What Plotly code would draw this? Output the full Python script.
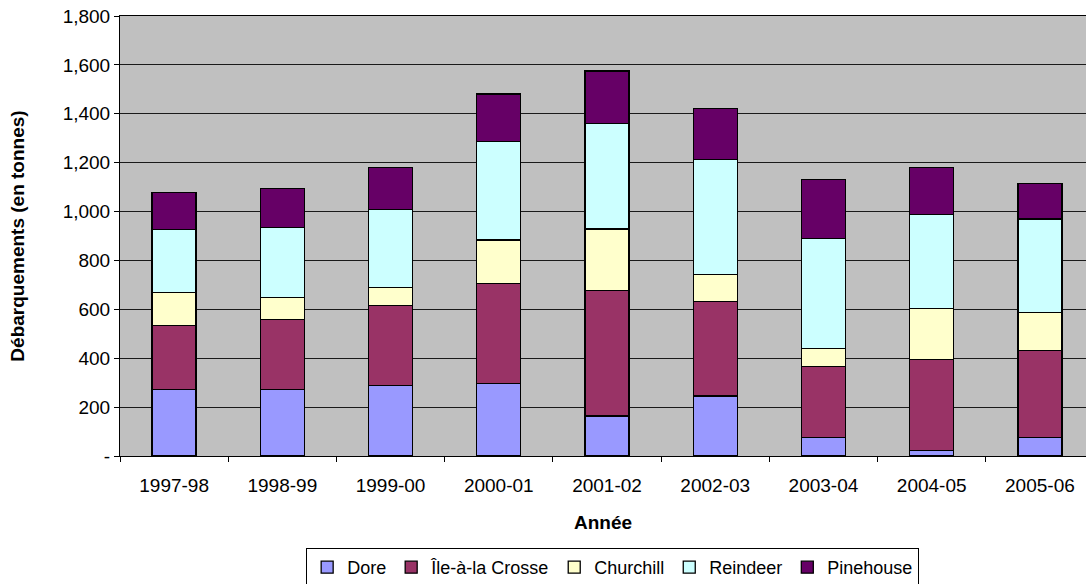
import plotly.graph_objects as go

years = ["1997-98", "1998-99", "1999-00", "2000-01", "2001-02", "2002-03", "2003-04", "2004-05", "2005-06"]
dore = [273, 273, 288, 297, 164, 246, 75, 22, 75]
ile_a_la_crosse = [260, 284, 327, 410, 513, 385, 291, 374, 356]
churchill = [135, 90, 75, 177, 252, 112, 73, 207, 157]
reindeer = [260, 287, 319, 402, 432, 471, 452, 386, 381]
pinehouse = [149, 160, 172, 195, 214, 207, 241, 192, 145]

y_tickvals = [0, 200, 400, 600, 800, 1000, 1200, 1400, 1600, 1800]
y_ticktext = ["-", "200", "400", "600", "800", "1,000", "1,200", "1,400", "1,600", "1,800"]

series = [
    ("Dore", dore, "#9999FF"),
    ("Île-à-la Crosse", ile_a_la_crosse, "#993366"),
    ("Churchill", churchill, "#FFFFCC"),
    ("Reindeer", reindeer, "#CCFFFF"),
    ("Pinehouse", pinehouse, "#660066"),
]

fig = go.Figure()
for name, vals, color in series:
    fig.add_trace(go.Bar(
        x=years, y=vals, name=name,
        marker=dict(color=color, line=dict(color="black", width=1.3)),
    ))

font_family = "Liberation Sans, Arial, sans-serif"
fig.update_layout(
    width=1086, height=584,
    barmode="stack", bargap=0.594,
    paper_bgcolor="white", plot_bgcolor="#C0C0C0",
    margin=dict(l=120, r=0, t=16, b=128, autoexpand=False),
    font=dict(family=font_family, size=19, color="black"),
    showlegend=True,
    legend=dict(
        orientation="h", x=0.51, xanchor="center", y=-0.209, yanchor="top",
        bgcolor="white", bordercolor="black", borderwidth=1,
        font=dict(size=18, family=font_family), traceorder="normal",
        itemwidth=30, tracegroupgap=0,
    ),
    xaxis=dict(
        type="category", tickson="boundaries", ticks="outside", ticklen=5,
        tickcolor="black", showline=True, mirror=True, linecolor="black", linewidth=1,
        showgrid=False, tickfont=dict(size=19), automargin=False,
        range=[-0.5, 8.426], ticklabelstandoff=12,
        title=dict(text="<b>Année</b>", font=dict(size=19), standoff=20),
    ),
    yaxis=dict(
        range=[0, 1800], tickvals=y_tickvals, ticktext=y_ticktext,
        ticks="outside", ticklen=5, tickcolor="black",
        showline=True, linecolor="black", linewidth=1,
        showgrid=True, gridcolor="#1a1a1a", gridwidth=1, zeroline=False,
        tickfont=dict(size=19), automargin=False, ticklabeloverflow="allow",
        title=dict(text="<b>Débarquements (en tonnes)</b>", font=dict(size=19), standoff=33),
    ),
)

fig.write_html(
    "out.html",
    config={"displayModeBar": False},
    post_script="document.body.style.margin='0';document.body.style.padding='0';",
)
